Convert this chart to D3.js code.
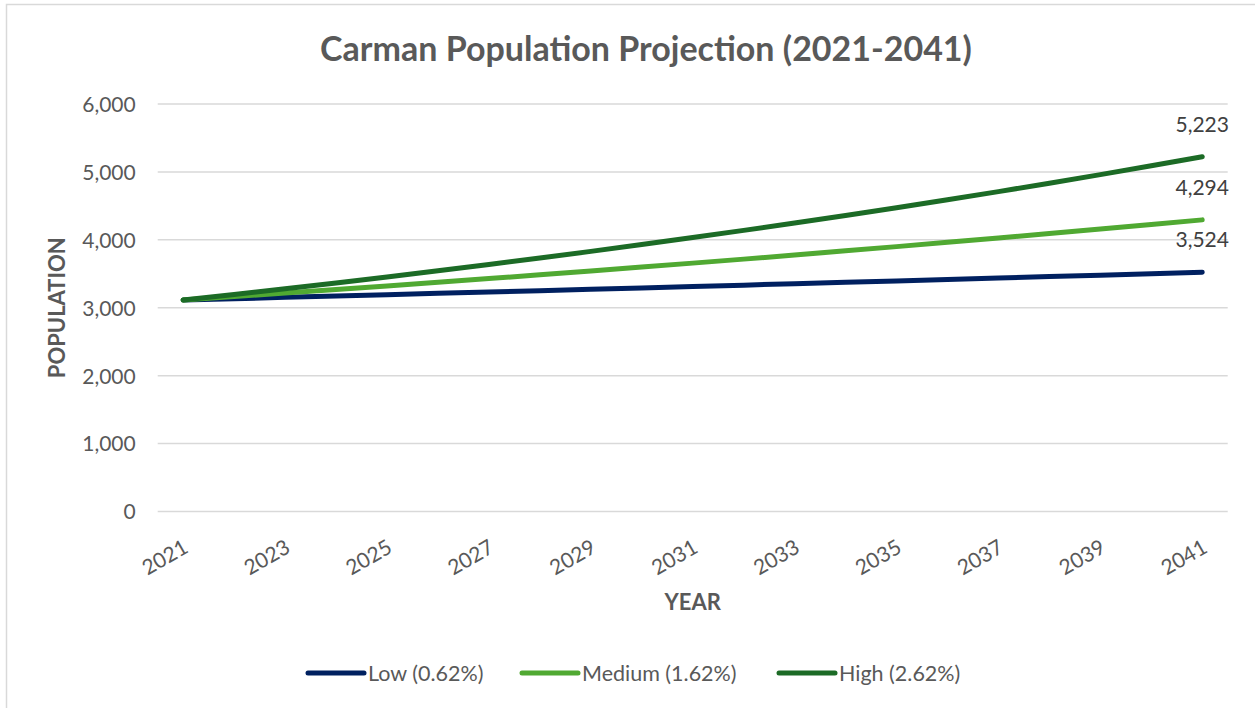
<!DOCTYPE html>
<html>
<head>
<meta charset="utf-8">
<script src="https://cdn.jsdelivr.net/npm/d3@7"></script>
<style>
  body { margin:0; background:#fff; }
  svg text { font-family: Lato, "Open Sans", sans-serif; }
</style>
</head>
<body>
<svg id="chart" width="1255" height="708"></svg>
<script>
// data
var years = ["2021","2022","2023","2024","2025","2026","2027","2028","2029","2030",
             "2031","2032","2033","2034","2035","2036","2037","2038","2039","2040","2041"];
var lowVals = [3114,3133,3153,3172,3192,3212,3232,3252,3272,3292,
               3313,3333,3354,3375,3395,3417,3438,3459,3480,3502,3524];
var medVals = [3114,3164,3216,3268,3321,3375,3429,3485,3541,3599,
               3657,3716,3776,3838,3900,3963,4027,4092,4159,4226,4294];
var highVals = [3114,3196,3279,3365,3453,3544,3637,3732,3830,3930,
                4033,4139,4247,4359,4473,4590,4710,4834,4960,5090,5223];
var seriesNames = ["Low (0.62%)", "Medium (1.62%)", "High (2.62%)"];
var seriesColors = ["#002060", "#50a932", "#1c6b26"];
var yTicks = [0,1000,2000,3000,4000,5000,6000];

var svg = d3.select("#chart");
var W = 1255, H = 708;

// Layout
var plot = { left:157.7, right:1227.7, top:104, bottom:511.5 };

// outer border (only top and left show in the picture)
svg.append("path")
   .attr("d", "M6.5," + H + "V4.5H" + W)
   .attr("fill", "none")
   .attr("stroke", "#d9d9d9")
   .attr("stroke-width", 1.5);

var x = d3.scalePoint()
          .domain(years)
          .range([plot.left, plot.right])
          .padding(0.5);
var y = d3.scaleLinear()
          .domain([0, 6000])
          .range([plot.bottom, plot.top]);

// title
svg.append("text")
   .attr("x", 646)
   .attr("y", 61)
   .attr("text-anchor", "middle")
   .attr("font-size", 34)
   .attr("font-weight", "bold")
   .attr("fill", "#595959")
   .text("Carman Population Projection (2021-2041)");

// gridlines
svg.append("g")
   .selectAll("line")
   .data(yTicks)
   .enter()
   .append("line")
   .attr("x1", plot.left)
   .attr("x2", plot.right)
   .attr("y1", function(d) { return y(d); })
   .attr("y2", function(d) { return y(d); })
   .attr("stroke", "#d9d9d9")
   .attr("stroke-width", 1.5);

// y axis
var yAxis = svg.append("g")
               .attr("transform", "translate(" + (plot.left - 22) + ",0)")
               .call(d3.axisLeft(y).tickValues(yTicks).tickSize(0).tickFormat(d3.format(",")));
yAxis.select(".domain").remove();
yAxis.selectAll("text")
     .attr("font-size", 21)
     .attr("fill", "#595959")
     .attr("dy", "0.35em")
     .attr("x", 0);

// x axis
var xAxis = svg.append("g")
               .attr("transform", "translate(0," + plot.bottom + ")")
               .call(d3.axisBottom(x).tickValues(years.filter(function(d,i) { return i%2==0; })).tickSize(0));
xAxis.select(".domain").remove();
xAxis.selectAll("text")
     .attr("font-size", 21)
     .attr("fill", "#595959")
     .attr("text-anchor", "end")
     .attr("y", 0)
     .attr("dy", 0)
     .attr("transform", "translate(6,40) rotate(-30)");

// axis titles
svg.append("text")
   .attr("x", (plot.left + plot.right)/2)
   .attr("y", 610)
   .attr("text-anchor", "middle")
   .attr("font-size", 22)
   .attr("font-weight", "bold")
   .attr("fill", "#595959")
   .text("YEAR");
svg.append("text")
   .attr("transform", "translate(65," + ((plot.top + plot.bottom)/2) + ") rotate(-90)")
   .attr("text-anchor", "middle")
   .attr("font-size", 22)
   .attr("font-weight", "bold")
   .attr("fill", "#595959")
   .text("POPULATION");

// lines
var allSeries = [lowVals, medVals, highVals];
var line = d3.line()
             .x(function(d,i) { return x(years[i]); })
             .y(function(d) { return y(d); });
svg.append("g")
   .selectAll("path")
   .data(allSeries)
   .enter()
   .append("path")
   .attr("d", line)
   .attr("fill", "none")
   .attr("stroke", function(d,i) { return seriesColors[i]; })
   .attr("stroke-width", 5)
   .attr("stroke-linecap", "round")
   .attr("stroke-linejoin", "round");

// end labels
svg.append("g")
   .selectAll("text")
   .data(allSeries)
   .enter()
   .append("text")
   .attr("x", x(years[years.length-1]))
   .attr("y", function(d) { return y(d[d.length-1]) - 25; })
   .attr("text-anchor", "middle")
   .attr("font-size", 21)
   .attr("fill", "#404040")
   .text(function(d) { return d3.format(",")(d[d.length-1]); });

// legend
var legendX = [308, 522, 779];
var lg = svg.append("g")
            .selectAll("g")
            .data(seriesNames)
            .enter()
            .append("g")
            .attr("transform", function(d,i) { return "translate(" + legendX[i] + ",673)"; });
lg.append("line")
  .attr("x1", 0).attr("x2", 56)
  .attr("y1", 0).attr("y2", 0)
  .attr("stroke", function(d,i) { return seriesColors[i]; })
  .attr("stroke-width", 5)
  .attr("stroke-linecap", "round");
lg.append("text")
  .attr("x", 60)
  .attr("y", 0)
  .attr("dy", "0.35em")
  .attr("font-size", 21.5)
  .attr("fill", "#595959")
  .text(function(d) { return d; });
</script>
</body>
</html>
